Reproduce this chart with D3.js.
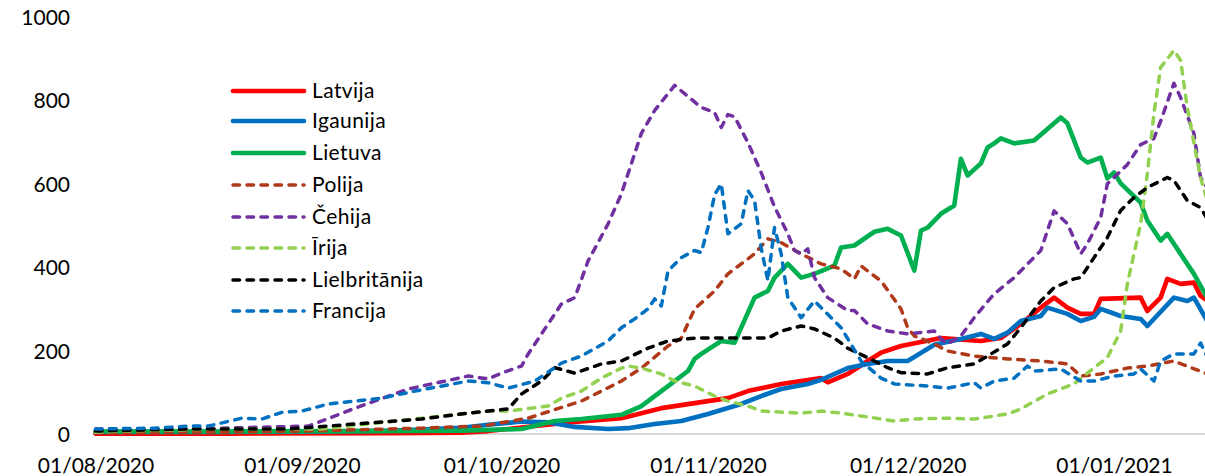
<!DOCTYPE html>
<html>
<head>
<meta charset="utf-8">
<script src="https://cdn.jsdelivr.net/npm/d3@7"></script>
<style>
  body { margin: 0; background: #fff; }
  svg { display: block; }
</style>
</head>
<body>
<script>

// data: [date, value]
const latvija = [["2020-08-01",1],["2020-08-21",1],["2020-09-14",2],["2020-09-25",3],["2020-09-29",7],["2020-10-06",19],["2020-10-12",29],["2020-10-19",38],["2020-10-25",62],["2020-10-30",74],["2020-11-04",86],["2020-11-07",103],["2020-11-12",120],["2020-11-18",134],["2020-11-19",124],["2020-11-22",144],["2020-11-25",175],["2020-11-27",195],["2020-11-30",211],["2020-12-06",230],["2020-12-12",223],["2020-12-15",230],["2020-12-18",264],["2020-12-21",303],["2020-12-23",327],["2020-12-25",303],["2020-12-27",288],["2020-12-29",288],["2020-12-30",324],["2021-01-05",327],["2021-01-06",295],["2021-01-08",327],["2021-01-09",372],["2021-01-11",360],["2021-01-13",363],["2021-01-14",331],["2021-01-15",320]];

const igaunija = [["2020-08-01",5],["2020-08-21",5],["2020-09-04",6],["2020-09-15",8],["2020-09-25",15],["2020-09-29",22],["2020-10-04",30],["2020-10-08",28],["2020-10-12",17],["2020-10-17",12],["2020-10-20",14],["2020-10-24",24],["2020-10-28",31],["2020-11-01",48],["2020-11-06",72],["2020-11-09",91],["2020-11-12",108],["2020-11-16",120],["2020-11-18",130],["2020-11-22",158],["2020-11-25",168],["2020-11-28",175],["2020-12-01",175],["2020-12-05",214],["2020-12-09",228],["2020-12-12",240],["2020-12-14",228],["2020-12-16",243],["2020-12-18",271],["2020-12-21",283],["2020-12-22",303],["2020-12-25",288],["2020-12-27",271],["2020-12-29",281],["2020-12-30",300],["2021-01-02",283],["2021-01-05",276],["2021-01-06",259],["2021-01-10",327],["2021-01-12",319],["2021-01-13",327],["2021-01-15",271]];

const lietuva = [["2020-08-01",6],["2020-08-21",6],["2020-09-10",7],["2020-09-25",8],["2020-09-29",10],["2020-10-04",12],["2020-10-09",31],["2020-10-13",36],["2020-10-19",46],["2020-10-22",67],["2020-10-26",115],["2020-10-29",151],["2020-10-30",180],["2020-10-31",192],["2020-11-03",223],["2020-11-05",219],["2020-11-08",327],["2020-11-10",343],["2020-11-11",375],["2020-11-13",408],["2020-11-15",375],["2020-11-17",384],["2020-11-20",404],["2020-11-21",447],["2020-11-23",452],["2020-11-26",485],["2020-11-28",492],["2020-11-30",476],["2020-12-02",392],["2020-12-03",488],["2020-12-04",495],["2020-12-06",528],["2020-12-08",548],["2020-12-09",660],["2020-12-10",620],["2020-12-12",649],["2020-12-13",687],["2020-12-14",697],["2020-12-15",709],["2020-12-17",697],["2020-12-20",704],["2020-12-24",759],["2020-12-25",745],["2020-12-27",663],["2020-12-28",651],["2020-12-30",663],["2020-12-31",613],["2021-01-01",627],["2021-01-02",601],["2021-01-05",555],["2021-01-06",512],["2021-01-08",464],["2021-01-09",480],["2021-01-11",432],["2021-01-13",384],["2021-01-15",327]];

const polija = [["2020-08-01",4],["2020-08-21",5],["2020-09-01",7],["2020-09-19",14],["2020-09-28",19],["2020-10-05",38],["2020-10-13",79],["2020-10-19",127],["2020-10-22",158],["2020-10-26",211],["2020-10-28",230],["2020-10-30",300],["2020-11-02",343],["2020-11-04",384],["2020-11-08",432],["2020-11-10",468],["2020-11-12",459],["2020-11-15",432],["2020-11-18",408],["2020-11-21",396],["2020-11-23",372],["2020-11-24",403],["2020-11-27",367],["2020-11-30",300],["2020-12-01",255],["2020-12-02",235],["2020-12-05",216],["2020-12-07",199],["2020-12-11",187],["2020-12-16",180],["2020-12-21",175],["2020-12-25",168],["2020-12-27",139],["2020-12-30",144],["2021-01-03",158],["2021-01-06",163],["2021-01-10",175],["2021-01-15",144]];

const cehija = [["2020-08-01",12],["2020-08-15",12],["2020-09-02",19],["2020-09-09",62],["2020-09-17",108],["2020-09-26",139],["2020-09-29",132],["2020-10-01",146],["2020-10-04",163],["2020-10-05",192],["2020-10-08",264],["2020-10-10",312],["2020-10-12",327],["2020-10-14",415],["2020-10-17",504],["2020-10-19",576],["2020-10-22",721],["2020-10-24",776],["2020-10-27",836],["2020-10-31",783],["2020-11-02",771],["2020-11-03",735],["2020-11-04",766],["2020-11-05",761],["2020-11-07",699],["2020-11-09",627],["2020-11-11",545],["2020-11-13",480],["2020-11-14",440],["2020-11-15",432],["2020-11-16",444],["2020-11-17",375],["2020-11-19",327],["2020-11-22",296],["2020-11-23",296],["2020-11-25",264],["2020-11-28",247],["2020-12-01",240],["2020-12-05",247],["2020-12-06",228],["2020-12-07",216],["2020-12-09",235],["2020-12-11",279],["2020-12-14",336],["2020-12-17",375],["2020-12-21",440],["2020-12-23",535],["2020-12-25",504],["2020-12-27",432],["2020-12-28",456],["2020-12-30",519],["2020-12-31",600],["2021-01-03",646],["2021-01-05",694],["2021-01-07",709],["2021-01-08",750],["2021-01-10",841],["2021-01-11",807],["2021-01-13",721],["2021-01-14",615],["2021-01-15",590]];

const irija = [["2020-08-01",4],["2020-08-05",7],["2020-08-20",12],["2020-09-04",12],["2020-09-19",38],["2020-09-29",55],["2020-10-02",55],["2020-10-08",67],["2020-10-10",86],["2020-10-13",103],["2020-10-16",134],["2020-10-19",158],["2020-10-20",163],["2020-10-22",158],["2020-10-25",144],["2020-10-27",127],["2020-10-30",115],["2020-11-02",91],["2020-11-04",79],["2020-11-07",67],["2020-11-09",55],["2020-11-15",50],["2020-11-18",55],["2020-11-21",50],["2020-11-27",36],["2020-11-29",31],["2020-12-02",36],["2020-12-07",38],["2020-12-11",36],["2020-12-16",48],["2020-12-18",60],["2020-12-22",96],["2020-12-26",120],["2020-12-29",159],["2020-12-31",183],["2021-01-02",247],["2021-01-03",360],["2021-01-05",504],["2021-01-06",624],["2021-01-07",769],["2021-01-08",879],["2021-01-10",920],["2021-01-11",896],["2021-01-12",783],["2021-01-14",615],["2021-01-15",560]];

const lielbritanija = [["2020-08-01",7],["2020-08-15",12],["2020-08-30",12],["2020-09-09",24],["2020-09-19",36],["2020-09-26",50],["2020-10-02",60],["2020-10-04",96],["2020-10-07",127],["2020-10-09",159],["2020-10-12",146],["2020-10-16",168],["2020-10-19",175],["2020-10-23",206],["2020-10-26",223],["2020-10-30",230],["2020-11-04",230],["2020-11-10",230],["2020-11-12",247],["2020-11-15",259],["2020-11-17",252],["2020-11-20",230],["2020-11-22",206],["2020-11-25",183],["2020-11-28",159],["2020-11-30",147],["2020-12-04",144],["2020-12-07",159],["2020-12-11",168],["2020-12-13",187],["2020-12-16",216],["2020-12-18",255],["2020-12-21",319],["2020-12-23",351],["2020-12-26",372],["2020-12-27",375],["2020-12-29",423],["2020-12-31",471],["2021-01-02",536],["2021-01-04",567],["2021-01-06",591],["2021-01-09",615],["2021-01-10",608],["2021-01-12",560],["2021-01-14",543],["2021-01-15",516]];

const francija = [["2020-08-01",12],["2020-08-10",14],["2020-08-15",19],["2020-08-18",19],["2020-08-23",38],["2020-08-26",36],["2020-08-29",52],["2020-09-01",55],["2020-09-05",72],["2020-09-13",86],["2020-09-18",103],["2020-09-26",127],["2020-09-29",123],["2020-10-02",110],["2020-10-06",127],["2020-10-10",170],["2020-10-13",187],["2020-10-17",223],["2020-10-19",255],["2020-10-21",276],["2020-10-23",300],["2020-10-24",324],["2020-10-25",307],["2020-10-26",391],["2020-10-28",423],["2020-10-30",440],["2020-10-31",435],["2020-11-01",495],["2020-11-02",574],["2020-11-03",600],["2020-11-04",480],["2020-11-06",504],["2020-11-07",584],["2020-11-08",560],["2020-11-09",446],["2020-11-10",368],["2020-11-11",495],["2020-11-12",432],["2020-11-13",327],["2020-11-15",279],["2020-11-17",319],["2020-11-21",255],["2020-11-24",175],["2020-11-27",134],["2020-11-29",120],["2020-12-04",115],["2020-12-07",110],["2020-12-11",123],["2020-12-12",110],["2020-12-14",127],["2020-12-17",134],["2020-12-19",163],["2020-12-20",151],["2020-12-24",156],["2020-12-27",127],["2020-12-29",127],["2021-01-01",139],["2021-01-04",144],["2021-01-05",156],["2021-01-07",127],["2021-01-08",175],["2021-01-10",192],["2021-01-13",192],["2021-01-14",218],["2021-01-15",185]];

const names = ["Latvija","Igaunija","Lietuva","Polija","Čehija","Īrija","Lielbritānija","Francija"];
const colors = ["#ff0000","#0070c0","#00b050","#b0391a","#7030a0","#92d050","#000000","#0070c0"];
const dashed = [false,false,false,true,true,true,true,true];
const allData = [latvija, igaunija, lietuva, polija, cehija, irija, lielbritanija, francija];

const yTicks = [0,200,400,600,800,1000];
const xTicks = ["2020-08-01","2020-09-01","2020-10-01","2020-11-01","2020-12-01","2021-01-01"];

const W = 1205, H = 476;
const font = "Lato, 'Open Sans', sans-serif";

let svg = d3.select("body")
    .append("svg")
    .attr("width", W)
    .attr("height", H);

const parse = d3.timeParse("%Y-%m-%d");

const x = d3.scaleTime()
    .domain([parse("2020-08-01"), parse("2021-01-15")])
    .range([95.5, 95.5 + 167 * 6.657]);
const y = d3.scaleLinear()
    .domain([0, 1000])
    .range([434, 17]);

// horizontal axis line
svg.append("line")
    .attr("x1", 93).attr("x2", W)
    .attr("y1", y(0)).attr("y2", y(0))
    .attr("stroke", "#d9d9d9")
    .attr("stroke-width", 2);

// y labels
svg.append("g")
    .attr("transform", "translate(70,0)")
    .call(d3.axisLeft(y).tickValues(yTicks).tickFormat(d3.format("d")).tickSize(0).tickPadding(0))
    .call(g => g.select(".domain").remove())
    .selectAll("text")
    .attr("dy", "0.36em")
    .style("font-family", font)
    .style("font-size", "21px")
    .style("fill", "#000");

// x labels
svg.append("g")
    .attr("transform", "translate(0," + y(0) + ")")
    .call(d3.axisBottom(x)
        .tickValues(xTicks.map(parse))
        .tickFormat(d3.timeFormat("%d/%m/%Y"))
        .tickSize(0)
        .tickPadding(24))
    .call(g => g.select(".domain").remove())
    .selectAll("text")
    .style("font-family", font)
    .style("font-size", "21px")
    .style("fill", "#000");

// lines
const line = d3.line()
    .x(d => x(parse(d[0])))
    .y(d => y(d[1]));

allData.forEach((serie, i) => {
    svg.append("path")
        .datum(serie)
        .attr("fill", "none")
        .attr("stroke", colors[i])
        .attr("stroke-width", dashed[i] ? 3.5 : 4.6)
        .attr("stroke-linejoin", "round")
        .attr("stroke-linecap", "round")
        .attr("stroke-dasharray", dashed[i] ? "6.5,7.5" : null)
        .attr("d", line);
});

// legend
const legendY = [91, 121, 153, 185, 217, 248, 280, 311];
names.forEach((n, i) => {
    svg.append("line")
        .attr("x1", 233).attr("x2", 304)
        .attr("y1", legendY[i]).attr("y2", legendY[i])
        .attr("stroke", colors[i])
        .attr("stroke-width", dashed[i] ? 3.5 : 4.6)
        .attr("stroke-linecap", "round")
        .attr("stroke-dasharray", dashed[i] ? "6.5,7.5" : null);
    svg.append("text")
        .attr("x", 312)
        .attr("y", legendY[i])
        .attr("dy", "0.35em")
        .style("font-family", font)
        .style("font-size", "21px")
        .style("letter-spacing", "0.4px")
        .text(n);
});

</script>
</body>
</html>
